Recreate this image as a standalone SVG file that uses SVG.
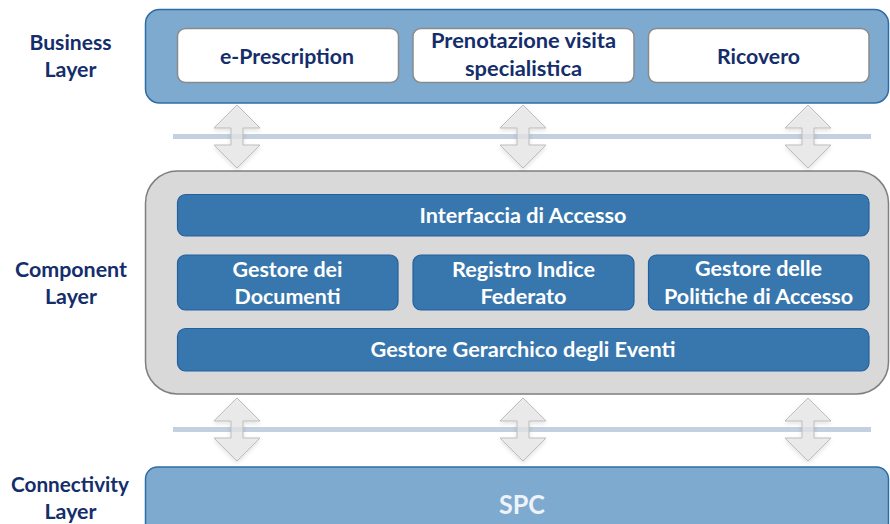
<svg xmlns="http://www.w3.org/2000/svg" width="890" height="524" viewBox="0 0 890 524">
<defs>
<style>
.lbl{font-family:Lato,"Open Sans","Liberation Sans",sans-serif;font-weight:bold;font-size:21px;fill:#142d6b;text-anchor:middle}
.wt{font-family:Lato,"Open Sans","Liberation Sans",sans-serif;font-weight:bold;font-size:20.5px;fill:#142d6b;text-anchor:middle}
.bt{font-family:Lato,"Open Sans","Liberation Sans",sans-serif;font-weight:bold;font-size:21px;fill:#ffffff;text-anchor:middle}
.layerBlue{fill:#7eaacf;stroke:#2e6ca6;stroke-width:1.5}
.layerGray{fill:#d9d9d9;stroke:#7f7f7f;stroke-width:1.5}
.wbox{fill:#ffffff;stroke:#8a8a8a;stroke-width:1.5}
.cbox{fill:#3877ae;stroke:#25609e;stroke-width:1.2}
.hline{stroke:#c3d0df;stroke-width:5}
.arrow{fill:#e6e6e6;fill-opacity:0.75;stroke:#bdbdbd;stroke-width:1;filter:url(#sh)}
</style>
<filter id="sh" x="-30%" y="-20%" width="160%" height="150%">
<feGaussianBlur in="SourceAlpha" stdDeviation="2"/>
<feOffset dx="0" dy="2" result="b"/>
<feComponentTransfer><feFuncA type="linear" slope="0.15"/></feComponentTransfer>
<feMerge><feMergeNode/><feMergeNode in="SourceGraphic"/></feMerge>
</filter>
<path id="dbl" d="M0,0 L23,23 L6,23 L6,40 L23,40 L0,63 L-23,40 L-6,40 L-6,23 L-23,23 Z"/>
</defs>

<g id="labels">
<text class="lbl" x="70.5" y="49.5" textLength="82" lengthAdjust="spacingAndGlyphs">Business</text>
<text class="lbl" x="70.5" y="77" textLength="52" lengthAdjust="spacingAndGlyphs">Layer</text>
<text class="lbl" x="71" y="277" textLength="112" lengthAdjust="spacingAndGlyphs">Component</text>
<text class="lbl" x="71" y="304" textLength="52" lengthAdjust="spacingAndGlyphs">Layer</text>
<text class="lbl" x="70" y="491.5" textLength="118" lengthAdjust="spacingAndGlyphs">Connectivity</text>
<text class="lbl" x="70.5" y="519" textLength="52" lengthAdjust="spacingAndGlyphs">Layer</text>
</g>

<g id="business-layer">
<rect class="layerBlue" x="145.5" y="9.5" width="743" height="93.5" rx="14"/>
</g>
<g id="e-prescription">
<rect class="wbox" x="177.5" y="28.5" width="221" height="54" rx="8"/>
<text class="wt" x="287" y="63.5" textLength="134" lengthAdjust="spacingAndGlyphs">e-Prescription</text>
</g>
<g id="prenotazione">
<rect class="wbox" x="413" y="28.5" width="221" height="54" rx="8"/>
<text class="wt" x="523.5" y="48" textLength="185" lengthAdjust="spacingAndGlyphs">Prenotazione visita</text>
<text class="wt" x="523.5" y="75.5" textLength="117" lengthAdjust="spacingAndGlyphs">specialistica</text>
</g>
<g id="ricovero">
<rect class="wbox" x="648.5" y="28.5" width="220.5" height="54" rx="8"/>
<text class="wt" x="758.5" y="63.5" textLength="83" lengthAdjust="spacingAndGlyphs">Ricovero</text>
</g>

<g id="component-layer">
<rect class="layerGray" x="145.5" y="171" width="743" height="223" rx="32"/>
</g>
<g id="interfaccia">
<rect class="cbox" x="177.5" y="194.5" width="691.5" height="41.5" rx="8"/>
<text class="bt" x="523" y="222.5" textLength="207" lengthAdjust="spacingAndGlyphs">Interfaccia di Accesso</text>
</g>
<g id="gestore-documenti">
<rect class="cbox" x="177.5" y="255" width="220.5" height="55" rx="8"/>
<text class="bt" x="287.5" y="277" textLength="110" lengthAdjust="spacingAndGlyphs">Gestore dei</text>
<text class="bt" x="287.5" y="303.5" textLength="106" lengthAdjust="spacingAndGlyphs">Documenti</text>
</g>
<g id="registro-indice">
<rect class="cbox" x="413" y="255" width="221" height="55" rx="8"/>
<text class="bt" x="523.5" y="277" textLength="143" lengthAdjust="spacingAndGlyphs">Registro Indice</text>
<text class="bt" x="523.5" y="303.5" textLength="86" lengthAdjust="spacingAndGlyphs">Federato</text>
</g>
<g id="gestore-politiche">
<rect class="cbox" x="648.5" y="255" width="220.5" height="55" rx="8"/>
<text class="bt" x="758.5" y="276" textLength="127" lengthAdjust="spacingAndGlyphs">Gestore delle</text>
<text class="bt" x="758.5" y="303.5" textLength="189" lengthAdjust="spacingAndGlyphs">Politiche di Accesso</text>
</g>
<g id="gestore-eventi">
<rect class="cbox" x="177.5" y="328.5" width="691.5" height="42.5" rx="8"/>
<text class="bt" x="523" y="357" textLength="305" lengthAdjust="spacingAndGlyphs">Gestore Gerarchico degli Eventi</text>
</g>

<g id="connectivity-layer">
<rect class="layerBlue" x="145.5" y="467" width="743" height="70" rx="12"/>
<text x="522" y="514" textLength="46" lengthAdjust="spacingAndGlyphs" style="font-family:Lato,'Open Sans','Liberation Sans',sans-serif;font-weight:bold;font-size:26px;fill:#edf3f9;text-anchor:middle">SPC</text>
</g>

<g id="connectors">
<line class="hline" x1="173" y1="136.5" x2="871" y2="136.5"/>
<line class="hline" x1="173" y1="429.5" x2="871" y2="429.5"/>
<use href="#dbl" class="arrow" x="237" y="105"/>
<use href="#dbl" class="arrow" x="523" y="105"/>
<use href="#dbl" class="arrow" x="808" y="105"/>
<use href="#dbl" class="arrow" x="237" y="398"/>
<use href="#dbl" class="arrow" x="523" y="398"/>
<use href="#dbl" class="arrow" x="808" y="398"/>
</g>
</svg>
